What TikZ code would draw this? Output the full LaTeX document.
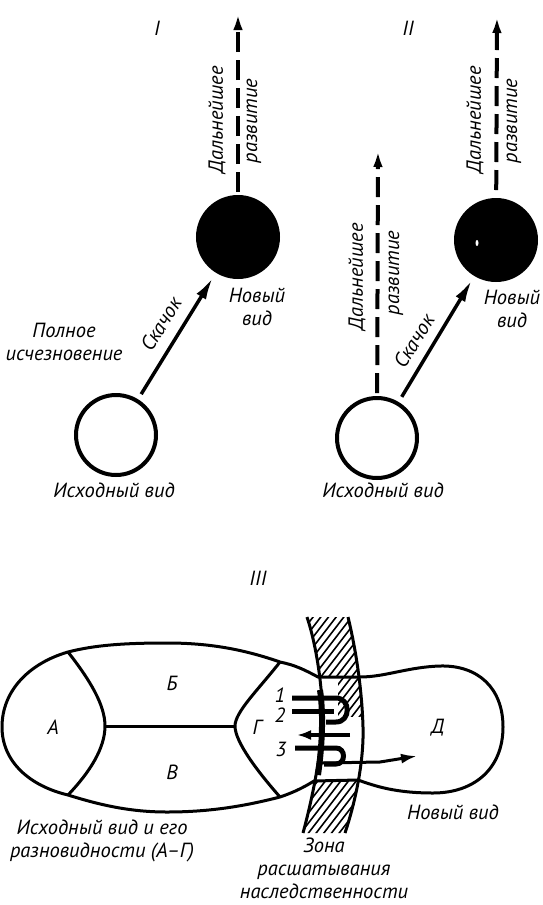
\documentclass[tikz,border=0pt]{standalone}
\usepackage{fontspec}
\setmainfont{PT Sans}
\usetikzlibrary{arrows.meta}
\begin{document}
\begin{tikzpicture}[x=1pt,y=-1pt,
  lbl/.style={font=\fontsize{20.5}{23}\selectfont\itshape, inner sep=0pt, align=center},
  sp/.style={circle, draw, line width=4pt, minimum size=80pt, inner sep=0pt, fill=white},
  newsp/.style={sp, fill=black},
  jump/.style={line width=3.5pt, -{Latex[length=22pt,width=11pt]}},
  devel/.style={line width=4pt, dash pattern=on 20pt off 8pt, -{Latex[length=20pt,width=9pt]}},
  outline/.style={line width=3pt, line join=round},
  hatch/.style={line width=1.6pt},
  flow/.style={line width=5pt},
  flowarr/.style={line width=4pt, -{Latex[length=14pt,width=10pt]}}]
\useasboundingbox[fill=white] (0,0) rectangle (543,905);

% ---------- Part I ----------
\node[lbl] (rI) at (157,28) {I};
\node[sp] (w1) at (116,435) {};
\node[newsp] (b1) at (238,237) {};
\coordinate (t1) at (238,10);
\draw[devel, shorten <=3pt] (b1) -- (t1);
\draw[jump, shorten <=6pt, shorten >=6pt] (w1) -- (b1);
\node[lbl, rotate=90] (d1a) at (217,120) {Дальнейшее};
\node[lbl, rotate=90] (d1b) at (254,121) {развитие};
\node[lbl, rotate=58.4] (s1) at (161,324) {Скачок};
\node[lbl] (n1) at (257,307) {Новый\\вид};
\node[lbl] (p1) at (64,342) {Полное\\исчезновение};
\node[lbl] (i1) at (114,490) {Исходный вид};

% ---------- Part II ----------
\node[lbl] (rII) at (408,28) {II};
\node[sp] (w2) at (377,438) {};
\node[newsp] (b2) at (496,240) {};
\fill[white] (477,243) ellipse (1.5pt and 3pt);
\coordinate (t2) at (378,147);
\coordinate (t3) at (497,13);
\draw[devel, shorten <=3pt] (w2) -- (t2);
\draw[devel, shorten <=8pt] (b2) -- (t3);
\draw[jump, shorten <=6pt, shorten >=5pt] (w2) -- (b2);
\node[lbl, rotate=90] (d2a) at (357,277) {Дальнейшее};
\node[lbl, rotate=90] (d2b) at (396,273) {развитие};
\node[lbl, rotate=90] (d3a) at (475,120) {Дальнейшее};
\node[lbl, rotate=90] (d3b) at (514,121) {развитие};
\node[lbl, rotate=58.4] (s2) at (414,341) {Скачок};
\node[lbl] (n2) at (512,309) {Новый\\вид};
\node[lbl] (i2) at (383,490) {Исходный вид};

% ---------- Part III ----------
\node[lbl] (rIII) at (258,578) {III};

% outline of both species
\draw[outline] (318,677) .. controls (305,670) and (295,665) .. (280,662)
  .. controls (240,648) and (205,643) .. (167,643)
  .. controls (125,643) and (95,645) .. (68,652)
  .. controls (30,663) and (2,690) .. (2,727)
  .. controls (2,762) and (30,786) .. (68,795)
  .. controls (100,805) and (130,812) .. (167,812)
  .. controls (210,812) and (245,806) .. (280,797)
  .. controls (295,792) and (306,786) .. (314,781)
  -- (358,780)
  .. controls (375,786) and (395,793) .. (433,793)
  .. controls (475,793) and (503,768) .. (503,727)
  .. controls (503,688) and (478,665) .. (440,666)
  .. controls (408,667) and (385,677) .. (360,677) -- cycle;
% dividers
\draw[outline] (68,652) .. controls (90,680) and (105,705) .. (105,726)
  .. controls (105,748) and (90,772) .. (68,795);
\draw[outline] (105,726) -- (235,726);
\draw[outline] (280,662) .. controls (258,690) and (235,712) .. (235,726)
  .. controls (235,742) and (258,772) .. (280,797);

% hatching of the zone
\begin{scope}
  \clip (307,617) .. controls (318,650) and (324,700) .. (322,727)
    .. controls (320,760) and (312,800) .. (303,833) -- (345,833)
    .. controls (356,800) and (364,760) .. (363,727)
    .. controls (362,690) and (356,650) .. (348,617) -- cycle;
  \begin{scope}
    \clip (250,600) rectangle (400,677);
    \foreach \c in {600,610,...,960} \draw[hatch] (280,\c) -- ++(100,-130);
  \end{scope}
  \begin{scope}
    \clip (250,780) rectangle (400,840);
    \foreach \c in {600,610,...,960} \draw[hatch] (280,\c) -- ++(100,-130);
  \end{scope}
  \begin{scope}
    \clip (338,677) rectangle (400,716);
    \foreach \c in {600,610,...,960} \draw[hatch] (280,\c) -- ++(100,-130);
  \end{scope}
\end{scope}
% zone boundaries
\draw[outline] (307,617) .. controls (318,650) and (324,700) .. (322,727)
    .. controls (320,760) and (312,800) .. (303,833);
\draw[outline] (348,617) .. controls (356,650) and (362,690) .. (363,727)
    .. controls (364,760) and (356,800) .. (345,833);
\draw[line width=6pt] (320,690) .. controls (323,710) and (323,740) .. (318,775);

% flows through the zone
\draw[flow] (292,698) -- (336,698) to[out=0,in=0,looseness=1.6] (336,722) -- (326,722);
\draw[flow] (292,711) -- (334,711);
\coordinate (fl0) at (350,735);
\coordinate (fl1) at (297,735);
\draw[flowarr] (fl0) -- (fl1);
\draw[flow] (295,748) -- (336,748) to[out=0,in=0,looseness=1.6] (336,764) -- (324,764);
\coordinate (fr0) at (322,763);
\coordinate (fr1) at (380,762);
\coordinate (fr2) at (417,756);
\draw[line width=3pt, -{Latex[length=16pt,width=10pt]}] (fr0) -- (fr1) -- (fr2);

\node[lbl] (k1) at (280,695) {1};
\node[lbl] (k2) at (280,715) {2};
\node[lbl] (k3) at (281,749) {3};
\node[lbl] (lA) at (53,727) {А};
\node[lbl] (lB) at (172,683) {Б};
\node[lbl] (lV) at (172,772) {В};
\node[lbl] (lG) at (257,727) {Г};
\node[lbl] (lD) at (438,728) {Д};
\node[lbl] (ish) at (102,841) {Исходный вид и его\\разновидности (А–Г)};
\node[lbl] (nov) at (453,812) {Новый вид};
\node[lbl] (zona) at (324,868) {Зона\\расшатывания\\наследственности};
\end{tikzpicture}
\end{document}
